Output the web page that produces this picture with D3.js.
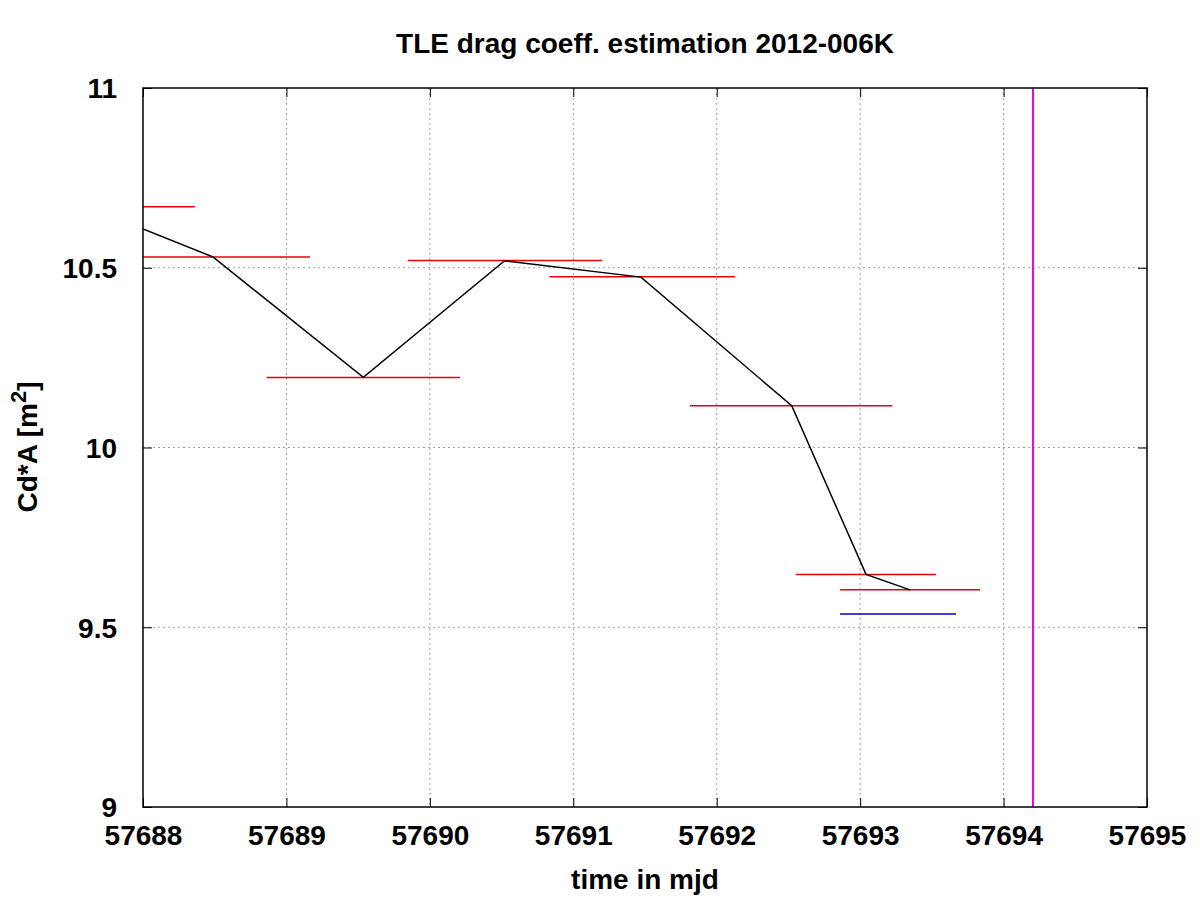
<!DOCTYPE html>
<html><head><meta charset="utf-8">
<script src="https://cdn.jsdelivr.net/npm/d3@7"></script>
<style>body{margin:0;background:#fff}svg{display:block}text{font-family:"Liberation Sans",Arial,sans-serif;font-weight:bold}</style>
</head><body><svg id="c" width="1200" height="900"></svg>
<script>
// Black estimated line (mjd, Cd*A)
const lineX = [57688.0, 57688.488, 57689.536, 57690.519, 57691.472, 57692.523, 57693.041, 57693.348];
const lineY = [10.608, 10.530, 10.195, 10.519, 10.474, 10.116, 9.647, 9.604];
// Red interval segments: start, end, value
const redStart = [57687.65, 57687.81, 57688.862, 57689.846, 57690.833, 57691.814, 57692.553, 57692.860];
const redEnd   = [57688.362, 57689.164, 57690.210, 57691.202, 57692.127, 57693.224, 57693.529, 57693.836];
const redVal   = [10.670, 10.530, 10.195, 10.520, 10.475, 10.116, 9.647, 9.604];
// Blue segment
const blueStart = [57692.860], blueEnd = [57693.668], blueVal = [9.537];
// Magenta vertical marker
const markerX = [57694.205];
const xTicks = [57688, 57689, 57690, 57691, 57692, 57693, 57694, 57695];
const yTicks = [9, 9.5, 10, 10.5, 11];
const yTickLabels = ["9", "9.5", "10", "10.5", "11"];

const svg = d3.select("#c");
const L = 143, R = 1147, T = 88, B = 807;
const x = d3.scaleLinear().domain([57688, 57695]).range([L, R]);
const y = d3.scaleLinear().domain([9, 11]).range([B, T]);

svg.append("defs").append("clipPath").attr("id","clip")
  .append("rect").attr("x",L).attr("y",T).attr("width",R-L).attr("height",B-T);

// grid
const g = svg.append("g");
g.selectAll(".gx").data(xTicks.slice(1,-1)).enter().append("line")
  .attr("x1",d=>x(d)).attr("x2",d=>x(d)).attr("y1",T).attr("y2",B)
  .attr("stroke","#a0a0a0").attr("stroke-width",1).attr("stroke-dasharray","2,3");
g.selectAll(".gy").data(yTicks.slice(1,-1)).enter().append("line")
  .attr("x1",L).attr("x2",R).attr("y1",d=>y(d)).attr("y2",d=>y(d))
  .attr("stroke","#a0a0a0").attr("stroke-width",1).attr("stroke-dasharray","2,3");

// axes with inward ticks
const axB = svg.append("g").attr("transform",`translate(0,${B})`)
  .call(d3.axisBottom(x).tickValues(xTicks).tickSize(-9).tickFormat(d3.format("d")).tickPadding(20));
const axT = svg.append("g").attr("transform",`translate(0,${T})`)
  .call(d3.axisTop(x).tickValues(xTicks).tickSize(-9).tickFormat(""));
const axL = svg.append("g").attr("transform",`translate(${L},0)`)
  .call(d3.axisLeft(y).tickValues(yTicks).tickSize(-9).tickFormat((d,i)=>yTickLabels[i]).tickPadding(26));
const axR = svg.append("g").attr("transform",`translate(${R},0)`)
  .call(d3.axisRight(y).tickValues(yTicks).tickSize(-9).tickFormat(""));
[axB,axT,axL,axR].forEach(a=>{
  a.select(".domain").remove();
  a.selectAll(".tick line").attr("stroke","#000").attr("stroke-width",1);
  a.selectAll("text").attr("font-size",28).attr("fill","#000")
   .style("font-family",'"Liberation Sans",Arial,sans-serif').style("font-weight","bold");
});
axB.selectAll("text").attr("dy",null).attr("y",38);
axL.selectAll("text").attr("dy","0.35em");

const plot = svg.append("g").attr("clip-path","url(#clip)");
// red segments
plot.selectAll(".red").data(redVal).enter().append("line")
  .attr("x1",(d,i)=>x(redStart[i])).attr("x2",(d,i)=>x(redEnd[i]))
  .attr("y1",d=>y(d)).attr("y2",d=>y(d))
  .attr("stroke","#e8000b").attr("stroke-width",1.5);
plot.selectAll(".blue").data(blueVal).enter().append("line")
  .attr("x1",(d,i)=>x(blueStart[i])).attr("x2",(d,i)=>x(blueEnd[i]))
  .attr("y1",d=>y(d)).attr("y2",d=>y(d))
  .attr("stroke","#0000c8").attr("stroke-width",1.5);
plot.append("path").datum(lineX.map((v,i)=>[v,lineY[i]]))
  .attr("d",d3.line().x(d=>x(d[0])).y(d=>y(d[1])))
  .attr("fill","none").attr("stroke","#000").attr("stroke-width",1.5);
plot.selectAll(".mag").data(markerX).enter().append("line")
  .attr("x1",d=>x(d)).attr("x2",d=>x(d)).attr("y1",T).attr("y2",B)
  .attr("stroke","#ee00ee").attr("stroke-width",2);

// border
svg.append("rect").attr("x",L).attr("y",T).attr("width",R-L).attr("height",B-T)
  .attr("fill","none").attr("stroke","#000").attr("stroke-width",1.5);

// titles
svg.append("text").attr("x",(L+R)/2).attr("y",53).attr("text-anchor","middle")
  .attr("font-size",28).text("TLE drag coeff. estimation 2012-006K");
svg.append("text").attr("x",(L+R)/2).attr("y",889).attr("text-anchor","middle")
  .attr("font-size",28).text("time in mjd");
const yl = svg.append("text").attr("transform","translate(37,447) rotate(-90)")
  .attr("text-anchor","middle").attr("font-size",28);
yl.append("tspan").text("Cd*A [m");
yl.append("tspan").attr("dy",-11).attr("font-size",22).text("2");
yl.append("tspan").attr("dy",11).text("]");
</script></body></html>
